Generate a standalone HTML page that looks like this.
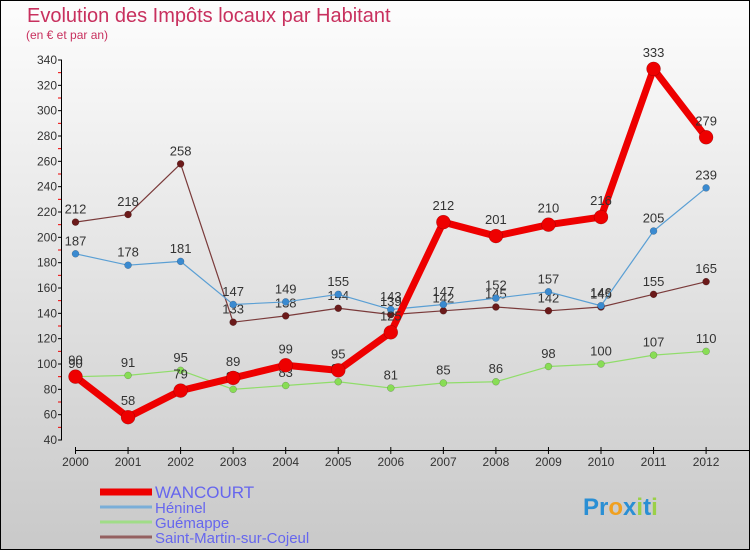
<!DOCTYPE html>
<html><head><meta charset="utf-8"><style>
body{margin:0;}
#wrap{width:750px;height:550px;position:relative;box-sizing:border-box;border:1px solid #000;background:linear-gradient(#fdfdfd,#c9c9c9);font-family:"Liberation Sans","DejaVu Sans",sans-serif;overflow:hidden}
</style></head><body>
<div id="wrap">
<svg id="chart" width="750" height="550" style="position:absolute;left:-1px;top:-1px"></svg>
</div>
<script>
const years=["2000","2001","2002","2003","2004","2005","2006","2007","2008","2009","2010","2011","2012"];
const wancourt=[90,58,79,89,99,95,125,212,201,210,216,333,279];
const heninel=[187,178,181,147,149,155,143,147,152,157,146,205,239];
const guemappe=[90,91,95,80,83,86,81,85,86,98,100,107,110];
const stmartin=[212,218,258,133,138,144,139,142,145,142,145,155,165];
const yTicks=[40,60,80,100,120,140,160,180,200,220,240,260,280,300,320,340];
const names=["WANCOURT","Héninel","Guémappe","Saint-Martin-sur-Cojeul"];

const svg=document.getElementById('chart');
const NS='http://www.w3.org/2000/svg';
function mk(t,a,p){const e=document.createElementNS(NS,t);for(const k in a)e.setAttribute(k,a[k]);(p||svg).appendChild(e);return e;}
const X=i=>75.5+i*52.55;
const Y=v=>440-(v-40)*380/300;

let t=mk('text',{x:27,y:22,'font-size':20,fill:'#c8305e'});t.textContent='Evolution des Impôts locaux par Habitant';

t=mk('text',{x:26,y:39,'font-size':12,fill:'#c8305e'});t.textContent='(en € et par an)';


let ya=mk('g',{});
mk('line',{x1:61.5,y1:Y(340),x2:61.5,y2:Y(40),stroke:'#000'},ya);
yTicks.forEach((v,i)=>{
  mk('line',{x1:58,x2:62,y1:Y(v),y2:Y(v),stroke:'#000'},ya);
  if(i<yTicks.length-1) mk('line',{x1:58,x2:61,y1:Y(v+10),y2:Y(v+10),stroke:'#e00'},ya);
  const l=mk('text',{x:57,y:Y(v)+4,'font-size':12,fill:'#333','text-anchor':'end'},ya);l.textContent=v;
  
});
let xa=mk('g',{});
mk('line',{x1:X(0),y1:450.5,x2:750,y2:450.5,stroke:'#000'},xa);
years.forEach((y,i)=>{
  mk('line',{x1:X(i),x2:X(i),y1:447,y2:454,stroke:'#000'},xa);
  const l=mk('text',{x:X(i),y:466,'font-size':12,fill:'#333','text-anchor':'middle'},xa);l.textContent=y;
  
});

function series(data,color,dot,w,r,name){
  const g=mk('g',{});
  mk('polyline',{points:data.map((v,i)=>X(i)+','+Y(v)).join(' '),fill:'none',stroke:color,'stroke-width':w,'stroke-linejoin':'round'},g);
  data.forEach((v,i)=>{
    const c=mk('circle',{cx:X(i),cy:Y(v),r:r,fill:dot,stroke:'rgba(0,0,0,0.3)','stroke-width':0.5},g);
    
    const l=mk('text',{x:X(i),y:Y(v)-(r+5),'font-size':13,fill:'#333','text-anchor':'middle'},g);l.textContent=v;
    
  });
}
series(stmartin,'#7a3a3a','#6b1a1a',1.2,3.5,'saint-martin-series');
series(heninel,'#5a9fd4','#3a8ad0',1.2,3.5,'heninel-series');
series(guemappe,'#90dd6a','#88dd55',1.2,3.5,'guemappe-series');
series(wancourt,'#ee0000','#ee0000',7,7,'wancourt-series');

const lc=['#ee0000','#7aaed8','#a0dd88','#946060'],lw=[7,3,3,3],fs=[17,15,15,15];
names.forEach((n,i)=>{
  const g=mk('g',{});
  const y=492+i*15;
  mk('line',{x1:100,x2:152,y1:y,y2:y,stroke:lc[i],'stroke-width':lw[i]},g);
  const l=mk('text',{x:155,y:y+6,'font-size':fs[i],fill:'#6666ee'},g);l.textContent=n;
});
const lg=mk('text',{x:583,y:515,'font-size':24,'font-weight':'bold'});

[['P','#2a8fd4'],['r','#2a8fd4'],['o','#f0a020'],['x','#2a8fd4'],['i','#9bd048'],['t','#2a8fd4'],['i','#9bd048']].forEach(([c,f])=>{const s=mk('tspan',{fill:f},lg);s.textContent=c;});
</script>
</body></html>
